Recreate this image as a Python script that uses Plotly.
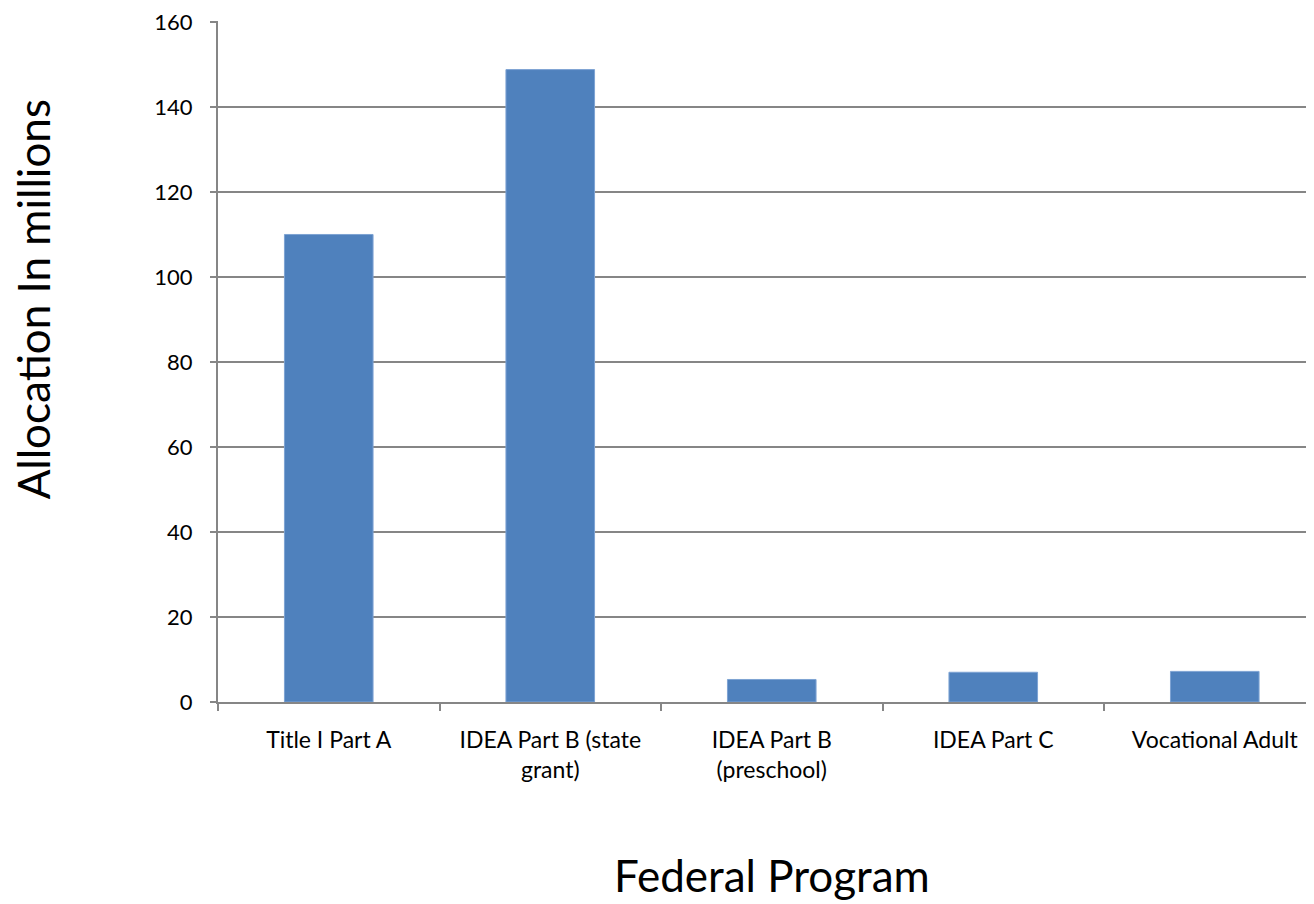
import plotly.graph_objects as go

categories = ["Title I Part A", "IDEA Part B (state grant)", "IDEA Part B (preschool)",
              "IDEA Part C", "Vocational Adult"]
tick_labels = ["Title I Part A", "IDEA Part B (state<br>grant)", "IDEA Part B<br>(preschool)",
               "IDEA Part C", "Vocational Adult"]
allocations = [110.0, 148.8, 5.3, 7.0, 7.2]
y_ticks = [0, 20, 40, 60, 80, 100, 120, 140, 160]

FONT = "Lato"
GRAY = "#868686"

fig = go.Figure()
fig.add_trace(go.Bar(
    x=categories, y=allocations,
    marker=dict(color="#4F81BD", line=dict(color="#7EA3D3", width=1)),
    width=0.4,
))

fig.update_layout(
    width=1306, height=896,
    margin=dict(l=210, r=0, t=9, b=202),
    paper_bgcolor="white", plot_bgcolor="white",
    showlegend=False,
    font=dict(family=FONT, color="black"),
    xaxis=dict(
        type="category",
        range=[-0.5, 4.448],
        tickmode="array", tickvals=categories, ticktext=tick_labels,
        tickson="boundaries", ticks="outside", ticklen=7, tickcolor=GRAY, tickwidth=2,
        showline=True, linecolor=GRAY, linewidth=2,
        showgrid=False,
        tickfont=dict(size=23, family=FONT),
        ticklabelstandoff=16,
    ),
    yaxis=dict(
        range=[0, 160.23],
        tickmode="array", tickvals=y_ticks,
        ticks="outside", ticklen=6, tickcolor=GRAY, tickwidth=2,
        showline=True, linecolor=GRAY, linewidth=2,
        showgrid=True, gridcolor=GRAY, gridwidth=1.5,
        zeroline=False,
        tickfont=dict(size=22, family=FONT),
        ticklabelstandoff=13,
        ticklabeloverflow="allow",
    ),
    annotations=[
        dict(text="Allocation In millions", xref="paper", yref="paper",
             x=(33 - 218) / 1096, y=(702 - 297) / 685, xanchor="center", yanchor="middle",
             textangle=-90, showarrow=False, font=dict(size=44, family=FONT)),
        dict(text="Federal Program", xref="paper", yref="paper",
             x=(772 - 218) / 1096, y=(702 - 876) / 685, xanchor="center", yanchor="middle",
             showarrow=False, font=dict(size=44, family=FONT)),
    ],
)

fig.write_html("out.html")
